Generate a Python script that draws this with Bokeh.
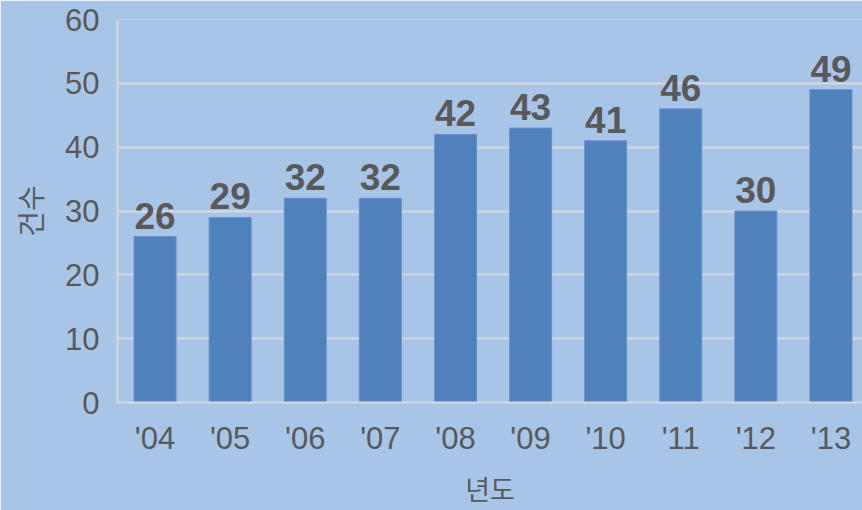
from bokeh.plotting import figure
from bokeh.models import Range1d, FixedTicker, ColumnDataSource
from bokeh.core.properties import value
from bokeh.embed import file_html
from bokeh.resources import INLINE

years = ["'04", "'05", "'06", "'07", "'08", "'09", "'10", "'11", "'12", "'13"]
counts = [26, 29, 32, 32, 42, 43, 41, 46, 30, 49]
y_ticks = [0, 10, 20, 30, 40, 50, 60]

BG = "#a8c5e8"
TXT = "#595959"
GRID = "#d9d9d9"

xs = list(range(len(years)))
src = ColumnDataSource(dict(x=xs, y=counts, label=[str(c) for c in counts]))

p = figure(width=862, height=510, output_backend="svg", toolbar_location=None,
           x_range=Range1d(-0.5, 9.42), y_range=Range1d(0, 60))
p.min_border_left = 117
p.min_border_right = 0
p.min_border_top = 19
p.min_border_bottom = 100
p.background_fill_color = BG
p.border_fill_color = BG
p.outline_line_color = None

p.vbar(x="x", top="y", width=0.56, source=src, fill_color="#4f81bd",
       line_color="#6892c8", line_width=1)

p.text(x="x", y="y", text="label", source=src, text_align="center",
       text_baseline="bottom", y_offset=-8, text_font_size="37px",
       text_font_style="bold", text_color=TXT, text_font=value("Liberation Sans"))

# x axis
xa = p.xaxis[0]
xa.ticker = FixedTicker(ticks=xs)
xa.major_label_overrides = {i: years[i] for i in xs}
xa.major_tick_line_color = None
xa.minor_tick_line_color = None
xa.axis_line_color = GRID
xa.axis_line_width = 2
xa.major_label_text_font_size = "31px"
xa.major_label_text_color = TXT
xa.major_label_text_font = "Liberation Sans"
xa.major_label_standoff = 12
xa.axis_label = "년도"
xa.axis_label_text_font = "Noto Sans CJK KR"
xa.axis_label_text_font_size = "27px"
xa.axis_label_text_font_style = "normal"
xa.axis_label_text_color = TXT
xa.axis_label_standoff = 10

# y axis
ya = p.yaxis[0]
ya.ticker = FixedTicker(ticks=y_ticks)
ya.major_tick_line_color = None
ya.minor_tick_line_color = None
ya.axis_line_color = GRID
ya.axis_line_width = 2
ya.major_label_text_font_size = "31px"
ya.major_label_text_color = TXT
ya.major_label_text_font = "Liberation Sans"
ya.major_label_standoff = 12
ya.axis_label = "건수"
ya.axis_label_text_font = "Noto Sans CJK KR"
ya.axis_label_text_font_size = "28px"
ya.axis_label_text_font_style = "normal"
ya.axis_label_text_color = TXT
ya.axis_label_standoff = 12

p.xgrid.grid_line_color = None
p.ygrid.grid_line_color = GRID
p.ygrid.grid_line_width = 2

open("out.html", "w").write(file_html(p, INLINE))
